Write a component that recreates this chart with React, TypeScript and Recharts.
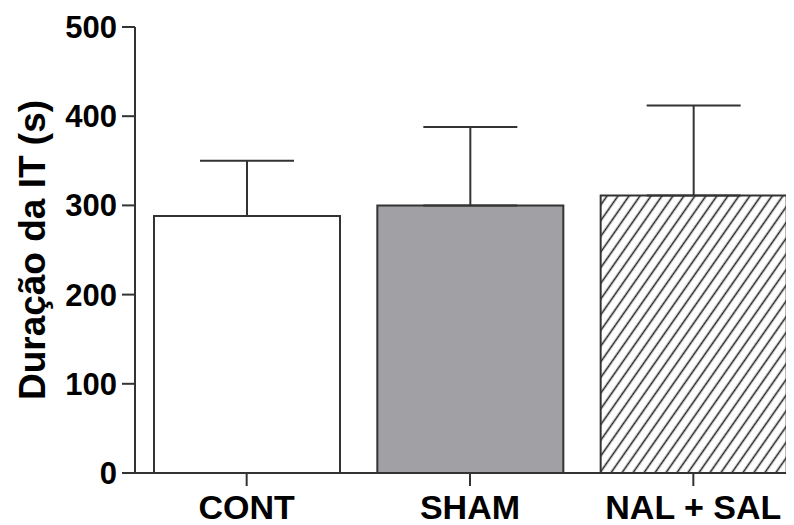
import React from 'react';
import { BarChart, Bar, XAxis, YAxis, ErrorBar, Cell } from 'recharts';

const categories = ['CONT', 'SHAM', 'NAL + SAL'];
const means = [288, 300, 311];
const sems = [62, 88, 101];
const yTicks = [0, 100, 200, 300, 400, 500];
const fills = ['#ffffff', '#a1a1a5', 'url(#hatch)'];

const data = categories.map((c, i) => ({ name: c, value: means[i], err: [0, sems[i]] }));

const FONT = '"Liberation Sans", Arial, Helvetica, sans-serif';
const AX = '#333333';

const YLabel = (props: any) => {
  const vb = props.viewBox || {};
  const x = 37;
  const y = (vb.y || 0) + (vb.height || 0) / 2;
  return (
    <text
      x={x}
      y={y}
      transform={`rotate(-90, ${x}, ${y})`}
      textAnchor="middle"
      fontFamily={FONT}
      fontWeight="bold"
      fontSize={37}
      fill="#000"
    >
      Duração da IT (s)
    </text>
  );
};

export default function App() {
  return (
    <div style={{ width: 786, height: 517, overflow: 'hidden', position: 'relative' }}>
      <svg width={0} height={0} style={{ position: 'absolute' }}>
        <defs>
          <pattern id="hatch" patternUnits="userSpaceOnUse" width={9} height={12} patternTransform="rotate(35)">
            <rect width={9} height={12} fill="#ffffff" />
            <line x1={4.5} y1={0} x2={4.5} y2={12} stroke="#222" strokeWidth={1.6} />
          </pattern>
        </defs>
      </svg>
      <BarChart
        width={830}
        height={517}
        data={data}
        margin={{ top: 19, right: 33, bottom: 0, left: 0 }}
        barSize={186}
      >
        <XAxis
          dataKey="name"
          height={52}
          tickSize={13}
          tickMargin={9}
          axisLine={{ stroke: AX, strokeWidth: 2 }}
          tickLine={{ stroke: AX, strokeWidth: 2 }}
          tick={{ fontFamily: FONT, fontWeight: 'bold', fontSize: 34, fill: '#000' }}
          interval={0}
        />
        <YAxis
          width={127}
          domain={[0, 500]}
          ticks={yTicks}
          interval={0}
          tickSize={13}
          tickMargin={5}
          axisLine={{ stroke: AX, strokeWidth: 2 }}
          tickLine={{ stroke: AX, strokeWidth: 2 }}
          tick={{ fontFamily: FONT, fontWeight: 'bold', fontSize: 31, fill: '#000' }}
          label={<YLabel />}
        />
        <Bar dataKey="value" stroke={AX} strokeWidth={2} isAnimationActive={false}>
          {data.map((d, i) => (
            <Cell key={d.name} fill={fills[i]} />
          ))}
          <ErrorBar dataKey="err" width={47} stroke={AX} strokeWidth={2} direction="y" isAnimationActive={false} />
        </Bar>
      </BarChart>
    </div>
  );
}
